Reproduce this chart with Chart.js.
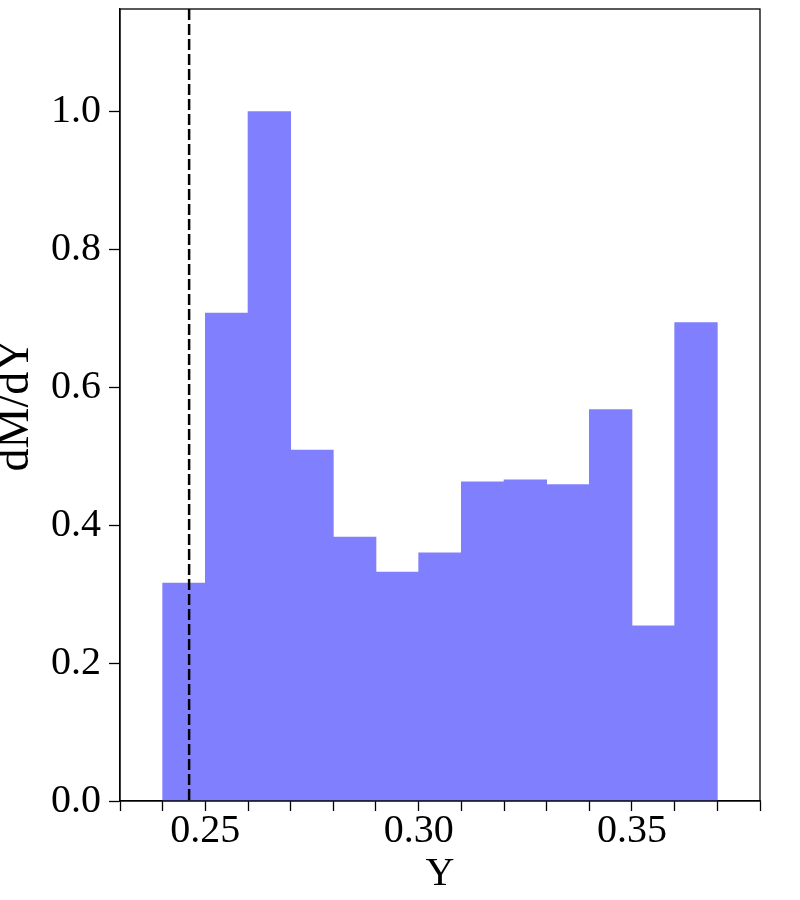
<!DOCTYPE html>
<html>
<head>
<meta charset="utf-8">
<script src="https://cdn.jsdelivr.net/npm/chart.js@4.4.1/dist/chart.umd.min.js"></script>
<style>
    body { margin: 0; background: #fff; }
    #wrap { width: 800px; height: 900px; }
</style>
</head>
<body>
<div id="wrap"><canvas id="hist"></canvas></div>
<script>
// histogram bins (left edges, width 0.01) and heights
const binStart = [0.24, 0.25, 0.26, 0.27, 0.28, 0.29, 0.30, 0.31, 0.32, 0.33, 0.34, 0.35, 0.36]
const binWidth = 0.01
const dMdY = [0.316, 0.708, 1.000, 0.509, 0.383, 0.332, 0.360, 0.463, 0.466, 0.459, 0.568, 0.254, 0.694]

// dashed marker
const markerY = 0.2462

// axes
const xMin = 0.23
const xMax = 0.38
const yMin = 0
const yMax = 1.149
const xTicks = [0.23, 0.24, 0.25, 0.26, 0.27, 0.28, 0.29, 0.30, 0.31, 0.32, 0.33, 0.34, 0.35, 0.36, 0.37, 0.38]
const xTickLabels = ["0.25", "0.30", "0.35"]
const yTicks = [0.0, 0.2, 0.4, 0.6, 0.8, 1.0]

const fontFamily = "'Liberation Serif', 'Times New Roman', serif"

const barData = binStart.map((b, i) => ({ x: b + binWidth / 2, y: dMdY[i] }))

//box round the plot area
const frame = {
    id: "frame",
    afterDraw(chart) {
        const { ctx, chartArea: a } = chart
        ctx.save()
        ctx.strokeStyle = "#000"
        ctx.lineWidth = 1.3
        ctx.strokeRect(a.left, a.top, a.right - a.left, a.bottom - a.top)
        ctx.restore()
    },
}

new Chart(document.getElementById("hist"), {
    type: "bar",
    data: {
        datasets: [
            {
                type: "line",
                data: [{ x: markerY, y: yMax }, { x: markerY, y: yMin }],
                borderColor: "#000",
                borderWidth: 2.5,
                borderDash: [11, 4],
                pointRadius: 0,
                order: 0,
            },
            {
                data: barData,
                backgroundColor: "#8080ff",
                borderWidth: 0,
                barPercentage: 1,
                categoryPercentage: 1,
                order: 1,
            },
        ],
    },
    options: {
        responsive: true,
        maintainAspectRatio: false,
        animation: false,
        layout: { padding: { top: 9, right: 40, left: 0, bottom: 0 } },
        plugins: { legend: { display: false }, tooltip: { enabled: false } },
        scales: {
            x: {
                type: "linear",
                min: xMin,
                max: xMax,
                offset: false,
                afterFit: scale => {
                    scale.height = 99
                    scale.paddingLeft = 0
                    scale.paddingRight = 0
                },
                afterBuildTicks: scale => { scale.ticks = xTicks.map(v => ({ value: v })) },
                grid: { offset: false, drawOnChartArea: false, drawTicks: true, tickLength: 10, tickColor: "#000", tickWidth: 1.3 },
                border: { display: true, color: "#000", width: 1.3 },
                ticks: {
                    autoSkip: false,
                    maxRotation: 0,
                    padding: 0,
                    color: "#000",
                    font: { family: fontFamily, size: 40, lineHeight: 1 },
                    callback: v => {
                        const s = v.toFixed(2)
                        return xTickLabels.includes(s) ? s : ""
                    },
                },
                title: {
                    display: true,
                    text: "Y",
                    color: "#000",
                    font: { family: fontFamily, size: 40, lineHeight: 1.2 },
                    padding: { top: 0, bottom: 2 },
                },
            },
            y: {
                min: yMin,
                max: yMax,
                afterFit: scale => {
                    scale.width = 120
                    scale.paddingTop = 0
                    scale.paddingBottom = 0
                },
                afterBuildTicks: scale => { scale.ticks = yTicks.map(v => ({ value: v })) },
                grid: { drawOnChartArea: false, drawTicks: true, tickLength: 11, tickColor: "#000", tickWidth: 1.3 },
                border: { display: true, color: "#000", width: 1.3 },
                ticks: {
                    padding: 8,
                    color: "#000",
                    font: { family: fontFamily, size: 40 },
                    callback: v => v.toFixed(1),
                },
                title: {
                    display: true,
                    text: "dM/dY",
                    color: "#000",
                    font: { family: fontFamily, size: 46, lineHeight: 1.2 },
                    padding: { top: -12, bottom: 0 },
                },
            },
        },
    },
    plugins: [frame],
})
</script>
</body>
</html>
